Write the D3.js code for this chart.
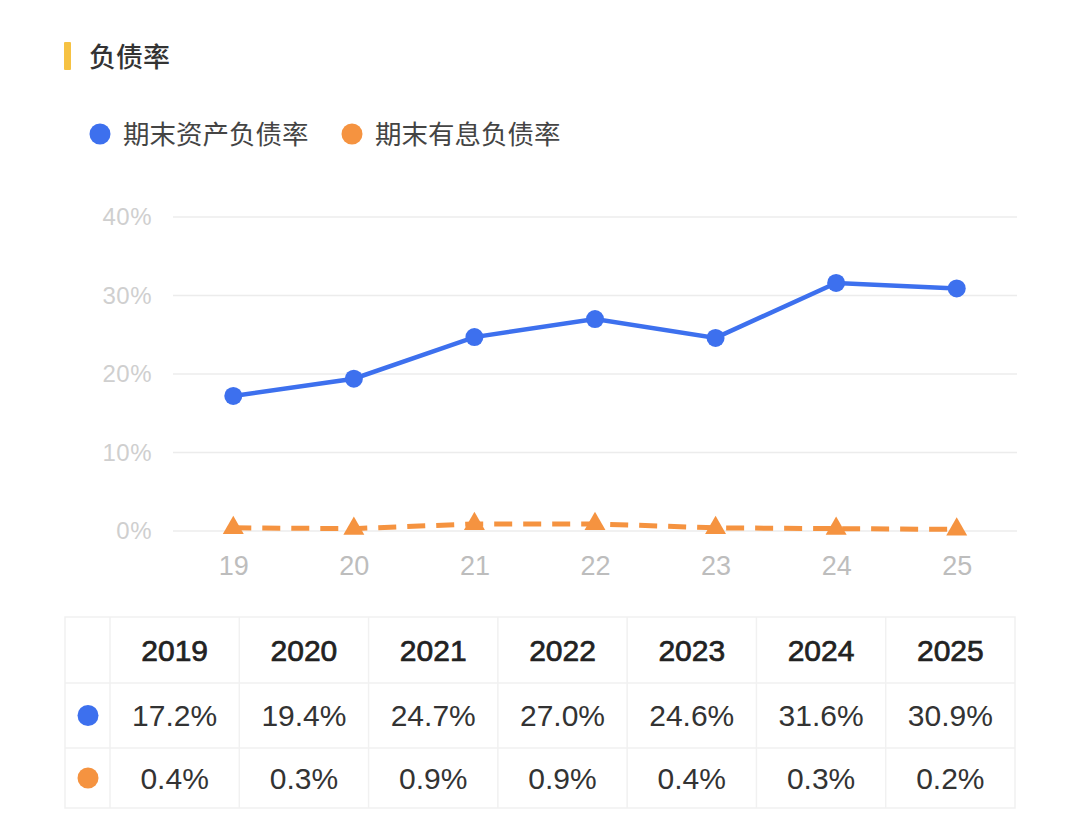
<!DOCTYPE html>
<html>
<head>
<meta charset="utf-8">
<script src="https://cdn.jsdelivr.net/npm/d3@7"></script>
<style>
  html, body { margin: 0; padding: 0; background: #fff; }
  svg { display: block; font-family: "Noto Sans CJK SC", "Noto Sans", sans-serif; }
</style>
</head>
<body>
<div id="chart-area"></div>
<script>
const years = ['2019', '2020', '2021', '2022', '2023', '2024', '2025'];
const shortYears = ['19', '20', '21', '22', '23', '24', '25'];
const assetDebt = [17.2, 19.4, 24.7, 27.0, 24.6, 31.6, 30.9];
const interestDebt = [0.4, 0.3, 0.9, 0.9, 0.4, 0.3, 0.2];
const seriesNames = ['期末资产负债率', '期末有息负债率'];
const yTicks = [0, 10, 20, 30, 40];

const width = 1080;
const height = 831;
const blue = '#3d70ee';
const orange = '#f59340';
const numFont = '"Liberation Sans", Arial, sans-serif';
const padding = { left: 173, right: 63, top: 217, bottom: 300 };

const svg = d3
  .select('#chart-area')
  .append('svg')
  .attr('width', width)
  .attr('height', height);

//title with yellow bar
svg.append('rect').attr('x', 64).attr('y', 42).attr('width', 7).attr('height', 28).attr('rx', 1).style('fill', '#f6c243');
svg
  .append('text')
  .attr('x', 89)
  .attr('y', 57)
  .attr('dy', '0.36em')
  .text('负债率')
  .style('font-size', '27px')
  .style('font-weight', '500')
  .style('fill', '#333');

//legend
const legend = svg.append('g').attr('transform', 'translate(0, 134)');
[
  { x: 100, color: blue, name: seriesNames[0] },
  { x: 352, color: orange, name: seriesNames[1] },
].forEach((d) => {
  legend.append('circle').attr('cx', d.x).attr('cy', 0).attr('r', 10.5).style('fill', d.color);
  legend
    .append('text')
    .attr('x', d.x + 23)
    .attr('y', 0)
    .attr('dy', '0.36em')
    .text(d.name)
    .style('font-size', '26.5px')
    .style('fill', '#444');
});

//scales
const xScale = d3
  .scalePoint()
  .domain(shortYears)
  .range([padding.left, width - padding.right])
  .padding(0.5);
const yScale = d3
  .scaleLinear()
  .domain([0, 40])
  .range([height - padding.bottom, padding.top]);

//grid
svg
  .append('g')
  .selectAll('line')
  .data(yTicks)
  .enter()
  .append('line')
  .attr('x1', padding.left)
  .attr('x2', width - padding.right)
  .attr('y1', (d) => yScale(d))
  .attr('y2', (d) => yScale(d))
  .style('stroke', '#ececec')
  .style('stroke-width', 1.5);

//y-axis labels
const yAxis = d3.axisLeft(yScale).tickValues(yTicks).tickFormat((d) => d + '%').tickSize(0).tickPadding(21);
svg
  .append('g')
  .attr('transform', `translate(${padding.left}, 0)`)
  .call(yAxis)
  .call((g) => g.select('.domain').remove())
  .selectAll('text')
  .style('font-family', numFont)
  .style('font-size', '24px')
  .style('letter-spacing', '0.5px')
  .style('fill', '#cfcfcf');

//x-axis labels
const xAxis = d3.axisBottom(xScale).tickSize(0).tickPadding(25);
svg
  .append('g')
  .attr('transform', `translate(0, ${height - padding.bottom})`)
  .call(xAxis)
  .call((g) => g.select('.domain').remove())
  .selectAll('text')
  .style('font-family', numFont)
  .style('font-size', '27px')
  .style('fill', '#bdbdbd');

//lines
const line = (vals) =>
  d3
    .line()
    .x((d, i) => xScale(shortYears[i]))
    .y((d) => yScale(d))(vals);

svg
  .append('path')
  .attr('d', line(interestDebt))
  .style('fill', 'none')
  .style('stroke', orange)
  .style('stroke-width', 5)
  .style('stroke-dasharray', '18 11');
svg
  .append('g')
  .selectAll('path')
  .data(interestDebt)
  .enter()
  .append('path')
  .attr('d', d3.symbol().type(d3.symbolTriangle).size(190))
  .attr('transform', (d, i) => `translate(${xScale(shortYears[i])}, ${yScale(d)})`)
  .style('fill', orange);

svg
  .append('path')
  .attr('d', line(assetDebt))
  .style('fill', 'none')
  .style('stroke', blue)
  .style('stroke-width', 4.5);
svg
  .append('g')
  .selectAll('circle')
  .data(assetDebt)
  .enter()
  .append('circle')
  .attr('cx', (d, i) => xScale(shortYears[i]))
  .attr('cy', (d) => yScale(d))
  .attr('r', 9)
  .style('fill', blue);

//table
const tableX = 65;
const firstCol = 45;
const colW = (1015 - tableX - firstCol) / years.length;
const rowY = [617, 683, 748, 808];
const table = svg.append('g').attr('id', 'table');
const border = '#f1f1f1';

table
  .append('rect')
  .attr('x', tableX)
  .attr('y', rowY[0])
  .attr('width', 1015 - tableX)
  .attr('height', rowY[3] - rowY[0])
  .style('fill', 'none')
  .style('stroke', border)
  .style('stroke-width', 1.5);
[1, 2].forEach((r) =>
  table
    .append('line')
    .attr('x1', tableX)
    .attr('x2', 1015)
    .attr('y1', rowY[r])
    .attr('y2', rowY[r])
    .style('stroke', border)
    .style('stroke-width', 1.5),
);
years.forEach((y, i) =>
  table
    .append('line')
    .attr('x1', tableX + firstCol + i * colW)
    .attr('x2', tableX + firstCol + i * colW)
    .attr('y1', rowY[0])
    .attr('y2', rowY[3])
    .style('stroke', border)
    .style('stroke-width', 1.5),
);

const rows = [
  { vals: years, color: null },
  { vals: assetDebt.map((v) => v.toFixed(1) + '%'), color: blue },
  { vals: interestDebt.map((v) => v.toFixed(1) + '%'), color: orange },
];
rows.forEach((row, r) => {
  const cy = (rowY[r] + rowY[r + 1]) / 2;
  if (row.color) {
    table.append('circle').attr('cx', 88).attr('cy', cy).attr('r', 10.5).style('fill', row.color);
  }
  table
    .append('g')
    .selectAll('text')
    .data(row.vals)
    .enter()
    .append('text')
    .attr('x', (d, i) => tableX + firstCol + (i + 0.5) * colW)
    .attr('y', cy)
    .attr('dy', '0.36em')
    .attr('text-anchor', 'middle')
    .text((d) => d)
    .style('font-family', numFont)
    .style('font-size', '30px')
    .style('fill', r === 0 ? '#222' : '#333')
    .style('stroke', r === 0 ? '#222' : 'none')
    .style('stroke-width', r === 0 ? 0.7 : 0);
});
</script>
</body>
</html>
